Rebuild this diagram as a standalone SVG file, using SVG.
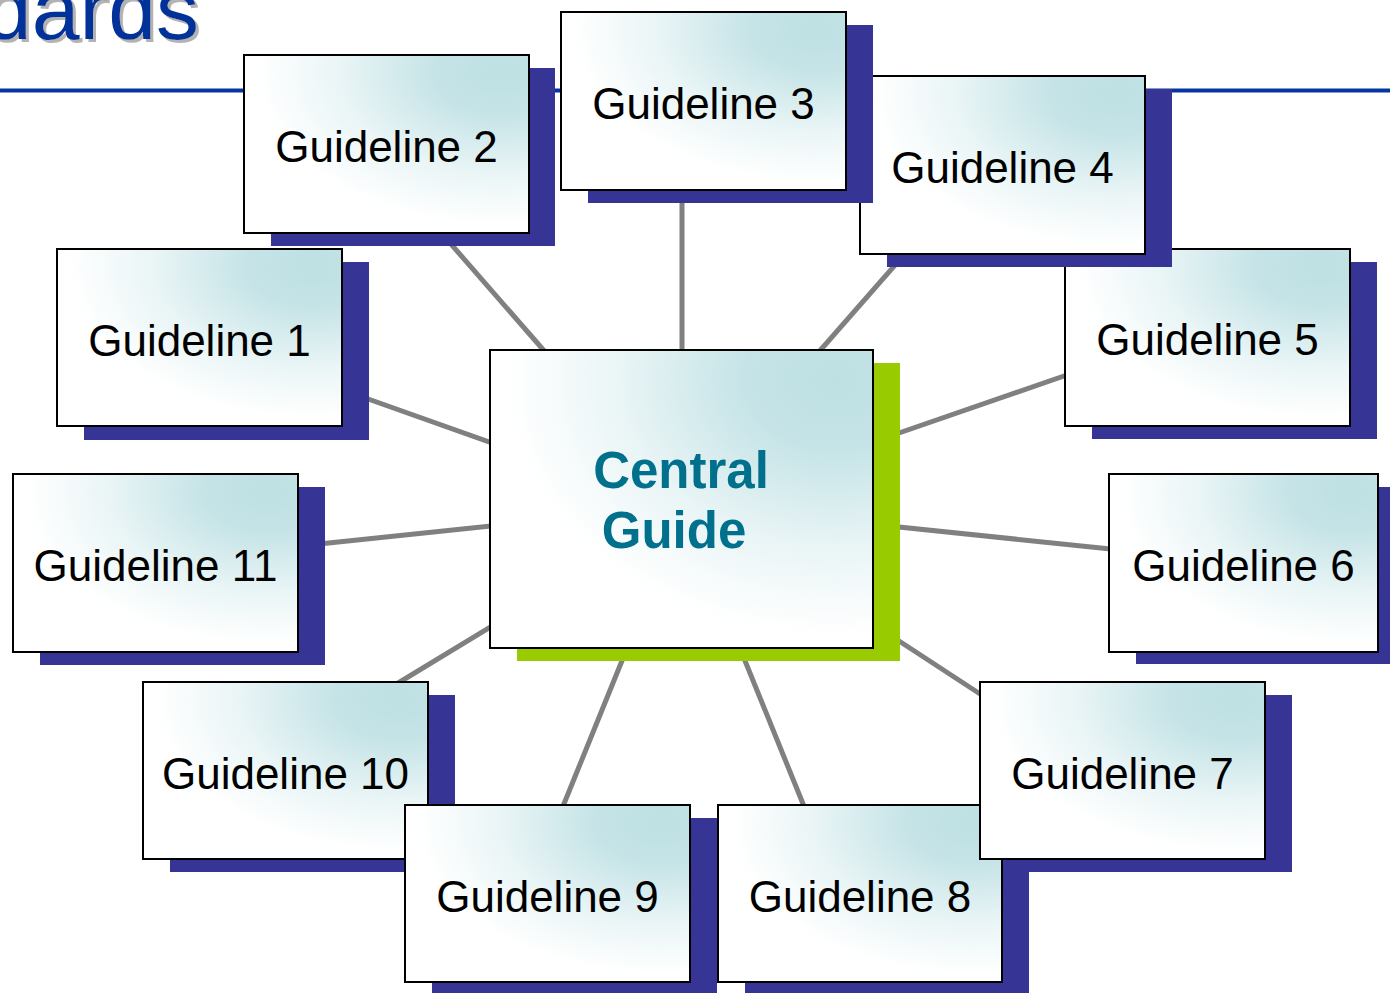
<svg xmlns="http://www.w3.org/2000/svg" width="1390" height="993" viewBox="0 0 1390 993">
<defs>
<radialGradient id="fillG" cx="0.9" cy="0.1" r="0.95" fx="0.9" fy="0.1">
<stop offset="0" stop-color="#bde0e3"/>
<stop offset="0.25" stop-color="#c6e4e7"/>
<stop offset="0.6" stop-color="#eaf5f6"/>
<stop offset="0.9" stop-color="#ffffff"/>
</radialGradient>
<filter id="tshadow" x="-10%" y="-10%" width="130%" height="140%">
<feFlood flood-color="#b3b3b3" result="c"/>
<feComposite in="c" in2="SourceAlpha" operator="in" result="s"/>
<feOffset in="s" dx="3" dy="3" result="o"/>
<feMerge><feMergeNode in="o"/><feMergeNode in="SourceGraphic"/></feMerge>
</filter>
</defs>
<style>
.box{fill:url(#fillG);stroke:#000;stroke-width:2}
.sh{fill:#363596}
.shg{fill:#99cc00}
.lbl{font-family:"Liberation Sans",Arial,sans-serif;font-size:44px;fill:#000;text-anchor:middle}
.ctr{font-family:"Liberation Sans",Arial,sans-serif;font-size:51px;font-weight:bold;fill:#00708c;text-anchor:middle}
.con line{stroke:#808080;stroke-width:5}
</style>
<rect x="0" y="0" width="1390" height="993" fill="#fff"/>
<g id="title">
<text x="199" y="39" font-family="Liberation Sans, Arial, sans-serif" font-size="86" fill="#003399" text-anchor="end" filter="url(#tshadow)">dards</text>
<line x1="0" y1="90.5" x2="1390" y2="90.5" stroke="#0536a0" stroke-width="4"/>
</g>
<g id="connectors" class="con">
<line x1="340" y1="389" x2="520" y2="453"/>
<line x1="300" y1="546" x2="520" y2="523"/>
<line x1="380" y1="694" x2="520" y2="609"/>
<line x1="430" y1="220" x2="560" y2="369"/>
<line x1="682" y1="185" x2="682" y2="370"/>
<line x1="910" y1="248" x2="803" y2="370"/>
<line x1="1090" y1="367" x2="870" y2="443"/>
<line x1="870" y1="524" x2="1130" y2="551"/>
<line x1="870" y1="622" x2="1000" y2="707"/>
<line x1="737" y1="641" x2="812" y2="826"/>
<line x1="630" y1="641" x2="555" y2="826"/>
</g>
<g id="g5"><rect class="sh" x="1092" y="262" width="285" height="177"/><rect class="box" x="1065" y="249" width="285" height="177"/><text class="lbl" x="1207.5" y="355">Guideline 5</text></g>
<g id="g4"><rect class="sh" x="887" y="89" width="285" height="178"/><rect class="box" x="860" y="76" width="285" height="178"/><text class="lbl" x="1002.5" y="183">Guideline 4</text></g>
<g id="g3"><rect class="sh" x="588" y="25" width="285" height="178"/><rect class="box" x="561" y="12" width="285" height="178"/><text class="lbl" x="703.5" y="119">Guideline 3</text></g>
<g id="g2"><rect class="sh" x="271" y="68" width="284" height="178"/><rect class="box" x="244" y="55" width="285" height="178"/><text class="lbl" x="386.5" y="162">Guideline 2</text></g>
<g id="g1"><rect class="sh" x="84" y="262" width="285" height="178"/><rect class="box" x="57" y="249" width="285" height="177"/><text class="lbl" x="199.5" y="356">Guideline 1</text></g>
<g id="g11"><rect class="sh" x="40" y="487" width="285" height="178"/><rect class="box" x="13" y="474" width="285" height="178"/><text class="lbl" x="155.5" y="581">Guideline 11</text></g>
<g id="g10"><rect class="sh" x="170" y="695" width="285" height="177"/><rect class="box" x="143" y="682" width="285" height="177"/><text class="lbl" x="285.5" y="789">Guideline 10</text></g>
<g id="g9"><rect class="sh" x="432" y="818" width="285" height="177"/><rect class="box" x="405" y="805" width="285" height="177"/><text class="lbl" x="547.5" y="912">Guideline 9</text></g>
<g id="g8"><rect class="sh" x="745" y="818" width="284" height="177"/><rect class="box" x="718" y="805" width="284" height="177"/><text class="lbl" x="860" y="912">Guideline 8</text></g>
<g id="g7"><rect class="sh" x="1007" y="695" width="285" height="177"/><rect class="box" x="980" y="682" width="285" height="177"/><text class="lbl" x="1122.5" y="789">Guideline 7</text></g>
<g id="g6"><rect class="sh" x="1136" y="487" width="269" height="177"/><rect class="box" x="1109" y="474" width="269" height="178"/><text class="lbl" x="1243.5" y="581">Guideline 6</text></g>
<g id="central"><rect class="shg" x="517" y="363" width="383" height="298"/><rect class="box" x="490" y="350" width="383" height="298" stroke-width="2.5"/><text class="ctr" x="681" y="488">Central</text><text class="ctr" x="674" y="548">Guide</text></g>
</svg>
